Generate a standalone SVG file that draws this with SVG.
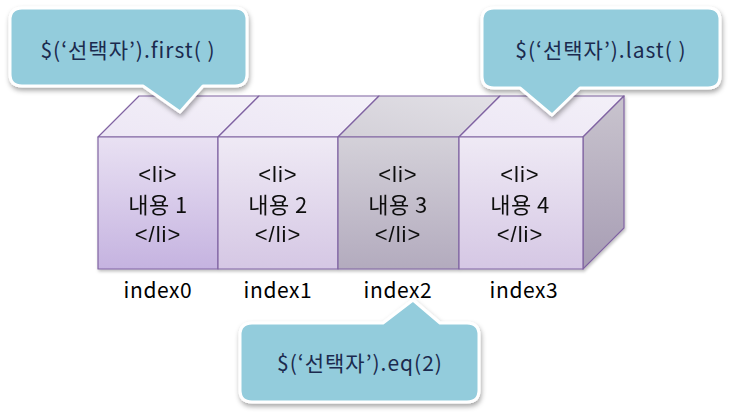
<svg xmlns="http://www.w3.org/2000/svg" width="729" height="414" viewBox="0 0 729 414">
<defs>
<linearGradient id="g1" x1="0" y1="0" x2="0" y2="1"><stop offset="0" stop-color="#E9E1F3"/><stop offset="1" stop-color="#C5B3E0"/></linearGradient>
<linearGradient id="g2" x1="0" y1="0" x2="0" y2="1"><stop offset="0" stop-color="#EFEAF5"/><stop offset="1" stop-color="#D5C7E4"/></linearGradient>
<linearGradient id="g3" x1="0" y1="0" x2="0" y2="1"><stop offset="0" stop-color="#D4D1D9"/><stop offset="1" stop-color="#B3ABBE"/></linearGradient>
<linearGradient id="gs" x1="0" y1="0" x2="0" y2="1"><stop offset="0" stop-color="#C9C4CE"/><stop offset="1" stop-color="#A79DB4"/></linearGradient>
<linearGradient id="gt" x1="0" y1="1" x2="1" y2="0"><stop offset="0" stop-color="#EDE7F5"/><stop offset="1" stop-color="#F3F0F8"/></linearGradient>
<linearGradient id="gt3" x1="0" y1="1" x2="1" y2="0"><stop offset="0" stop-color="#D3D0D8"/><stop offset="1" stop-color="#E2E0E6"/></linearGradient>
<filter id="sh" x="-10%" y="-10%" width="130%" height="140%"><feDropShadow dx="1" dy="3" stdDeviation="2.5" flood-color="#000" flood-opacity="0.35"/></filter>
<filter id="csh" x="-5%" y="-5%" width="115%" height="120%"><feDropShadow dx="1" dy="2" stdDeviation="1.5" flood-color="#000" flood-opacity="0.25"/></filter>
</defs>
<style>
.edge{stroke:#8064A2;stroke-width:1.2;stroke-linejoin:round}
.call{fill:#93CCDC;stroke:#FFFFFF;stroke-width:3;stroke-linejoin:round;filter:url(#sh)}
.ct{font-family:"Noto Sans CJK KR","Noto Sans",sans-serif;font-size:21px;letter-spacing:1px;fill:#1B2A4E;text-anchor:middle}
.bt{font-family:"Noto Sans CJK KR","Noto Sans",sans-serif;font-size:22px;letter-spacing:0.5px;fill:#111;text-anchor:middle}
.tg{font-family:"Liberation Sans",Arial,sans-serif;font-size:22px;letter-spacing:1px;fill:#111;text-anchor:middle}
.it{font-family:"Noto Sans CJK KR","Noto Sans",sans-serif;font-size:21px;letter-spacing:0.6px;fill:#000;text-anchor:middle}
</style>
<g id="cubes" filter="url(#csh)">
<g id="cube1">
<polygon class="edge" points="98,137 218,137 259,96 139,96" fill="url(#gt)"/>
<rect class="edge" x="98" y="137" width="120" height="132" fill="url(#g1)"/>
<text class="tg" x="158" y="182">&lt;li&gt;</text>
<text class="bt" x="158" y="213">내용 1</text>
<text class="tg" x="158" y="242">&lt;/li&gt;</text>
</g>
<g id="cube2">
<polygon class="edge" points="218,137 338,137 379,96 259,96" fill="url(#gt)"/>
<rect class="edge" x="218" y="137" width="120" height="132" fill="url(#g2)"/>
<text class="tg" x="278" y="182">&lt;li&gt;</text>
<text class="bt" x="278" y="213">내용 2</text>
<text class="tg" x="278" y="242">&lt;/li&gt;</text>
</g>
<g id="cube3">
<polygon class="edge" points="338,137 459,137 500,96 379,96" fill="url(#gt3)"/>
<rect class="edge" x="338" y="137" width="121" height="132" fill="url(#g3)"/>
<text class="tg" x="398" y="182">&lt;li&gt;</text>
<text class="bt" x="398" y="213">내용 3</text>
<text class="tg" x="398" y="242">&lt;/li&gt;</text>
</g>
<g id="cube4">
<polygon class="edge" points="459,137 583,137 624,96 500,96" fill="url(#gt)"/>
<polygon class="edge" points="583,137 624,96 624,228 583,269" fill="url(#gs)"/>
<rect class="edge" x="459" y="137" width="124" height="132" fill="url(#g2)"/>
<text class="tg" x="520" y="182">&lt;li&gt;</text>
<text class="bt" x="520" y="213">내용 4</text>
<text class="tg" x="520" y="242">&lt;/li&gt;</text>
</g>
</g>
<g id="labels">
<text class="it" x="158" y="298">index0</text>
<text class="it" x="278" y="298">index1</text>
<text class="it" x="398" y="298">index2</text>
<text class="it" x="524" y="298">index3</text>
</g>
<g id="callout-first">
<path class="call" d="M22,8 H235 Q247,8 247,20 V74 Q247,86 235,86 H203 L180,112 L143,86 H22 Q10,86 10,74 V20 Q10,8 22,8 Z"/>
<text class="ct" x="128" y="58">$(‘선택자’).first( )</text>
</g>
<g id="callout-last">
<path class="call" d="M494,8 H708 Q720,8 720,20 V76 Q720,88 708,88 H580 L552,115 L520,88 H494 Q482,88 482,76 V20 Q482,8 494,8 Z"/>
<text class="ct" x="601" y="58">$(‘선택자’).last( )</text>
</g>
<g id="callout-eq">
<path class="call" d="M252,323 H383 L413,300 L440,323 H467 Q479,323 479,335 V390 Q479,402 467,402 H252 Q240,402 240,390 V335 Q240,323 252,323 Z"/>
<text class="ct" x="360" y="371">$(‘선택자’).eq(2)</text>
</g>
</svg>
